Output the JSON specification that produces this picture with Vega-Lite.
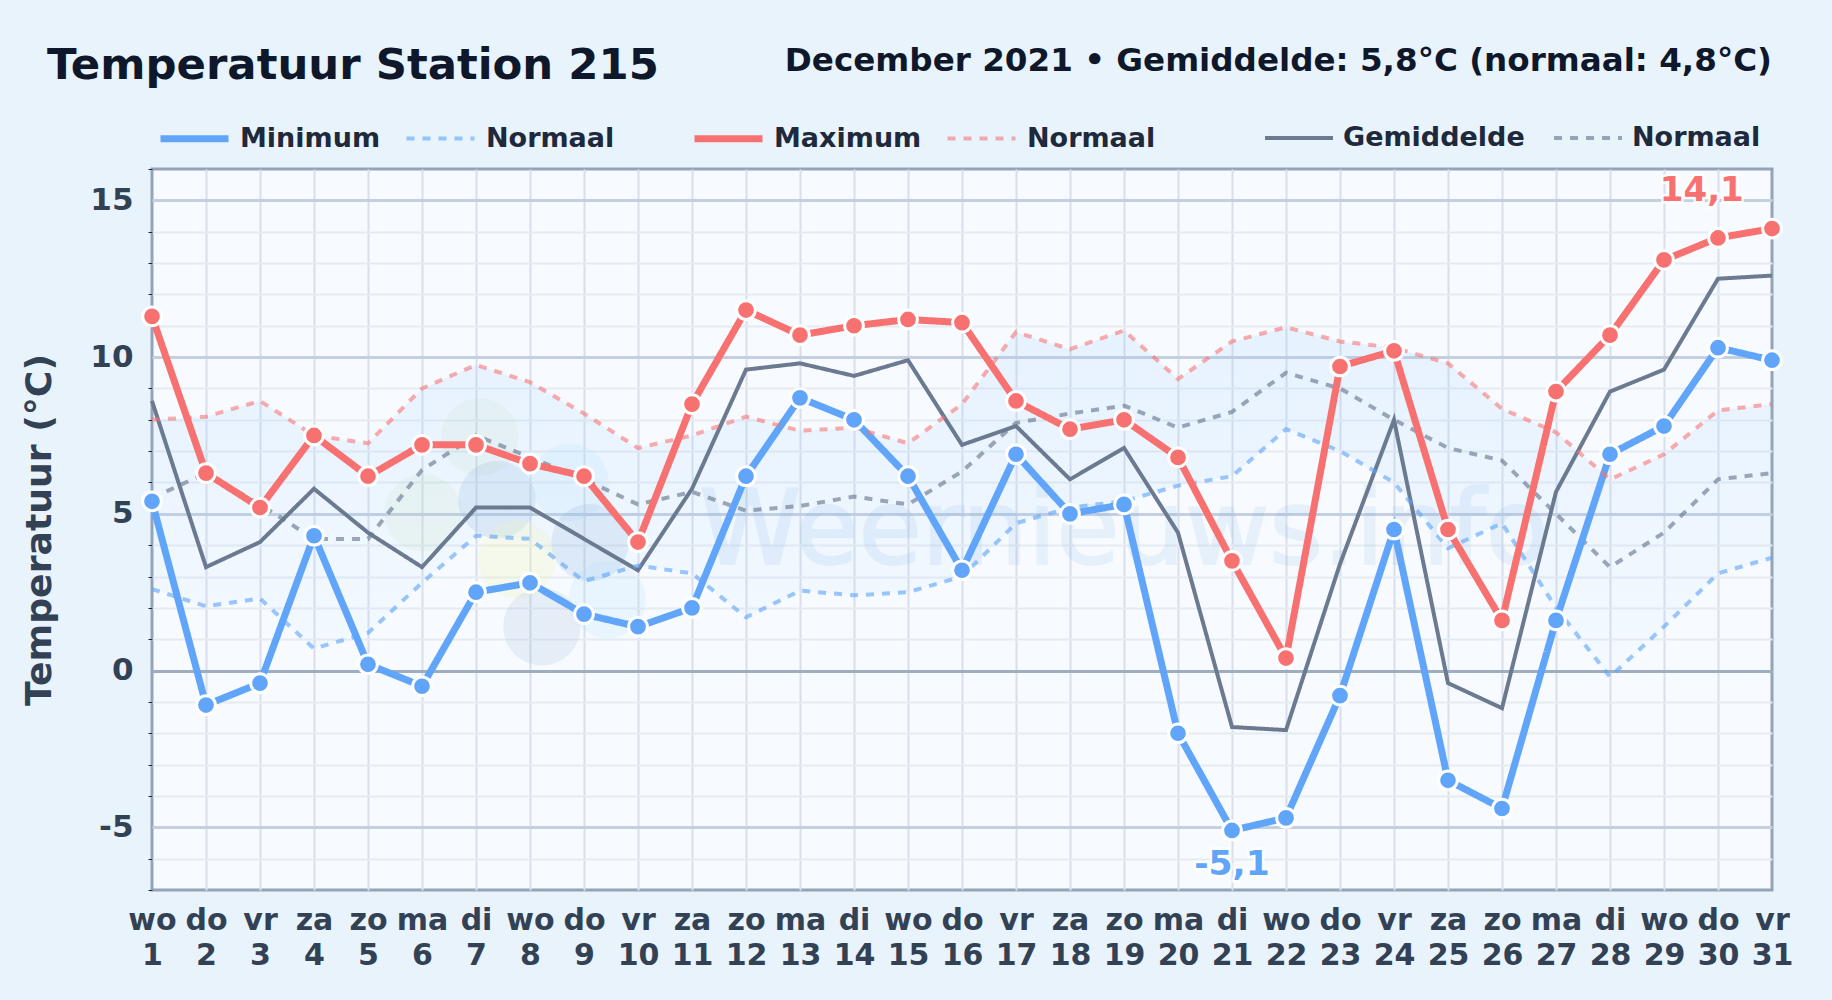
{
"$schema":"https://vega.github.io/schema/vega-lite/v6.json",
"autosize":"none",
"width":1620,"height":721,
"padding":{"left":152,"top":169,"right":60,"bottom":110},
"background":"#e8f3fc",
"view":{"fill":"#f7fbff","stroke":"#94a3b8","strokeWidth":3},
"title":{"text":"Temperatuur Station 215","anchor":"start","frame":"group","dx":-105,"offset":-44,"font":"DejaVu Sans","fontSize":43.4,"fontWeight":"bold","color":"#0f172a"},
"datasets":{
"dagen":[
{"dag":1,"Minimum":5.4,"Maximum":11.3,"Gemiddelde":8.6,"NormaalMin":2.6,"NormaalMax":8.0,"NormaalGem":5.5},
{"dag":2,"Minimum":-1.1,"Maximum":6.3,"Gemiddelde":3.3,"NormaalMin":2.05,"NormaalMax":8.1,"NormaalGem":6.3},
{"dag":3,"Minimum":-0.4,"Maximum":5.2,"Gemiddelde":4.1,"NormaalMin":2.3,"NormaalMax":8.6,"NormaalGem":5.3},
{"dag":4,"Minimum":4.3,"Maximum":7.5,"Gemiddelde":5.8,"NormaalMin":0.7,"NormaalMax":7.5,"NormaalGem":4.2},
{"dag":5,"Minimum":0.2,"Maximum":6.2,"Gemiddelde":4.4,"NormaalMin":1.2,"NormaalMax":7.25,"NormaalGem":4.2},
{"dag":6,"Minimum":-0.5,"Maximum":7.2,"Gemiddelde":3.3,"NormaalMin":2.8,"NormaalMax":9.0,"NormaalGem":6.4},
{"dag":7,"Minimum":2.5,"Maximum":7.2,"Gemiddelde":5.2,"NormaalMin":4.3,"NormaalMax":9.75,"NormaalGem":7.5},
{"dag":8,"Minimum":2.8,"Maximum":6.6,"Gemiddelde":5.2,"NormaalMin":4.2,"NormaalMax":9.2,"NormaalGem":6.8},
{"dag":9,"Minimum":1.8,"Maximum":6.2,"Gemiddelde":4.2,"NormaalMin":2.85,"NormaalMax":8.2,"NormaalGem":6.1},
{"dag":10,"Minimum":1.4,"Maximum":4.1,"Gemiddelde":3.2,"NormaalMin":3.35,"NormaalMax":7.1,"NormaalGem":5.3},
{"dag":11,"Minimum":2.0,"Maximum":8.5,"Gemiddelde":5.8,"NormaalMin":3.1,"NormaalMax":7.5,"NormaalGem":5.7},
{"dag":12,"Minimum":6.2,"Maximum":11.5,"Gemiddelde":9.6,"NormaalMin":1.7,"NormaalMax":8.1,"NormaalGem":5.1},
{"dag":13,"Minimum":8.7,"Maximum":10.7,"Gemiddelde":9.8,"NormaalMin":2.55,"NormaalMax":7.65,"NormaalGem":5.25},
{"dag":14,"Minimum":8.0,"Maximum":11.0,"Gemiddelde":9.4,"NormaalMin":2.4,"NormaalMax":7.75,"NormaalGem":5.55},
{"dag":15,"Minimum":6.2,"Maximum":11.2,"Gemiddelde":9.9,"NormaalMin":2.5,"NormaalMax":7.25,"NormaalGem":5.3},
{"dag":16,"Minimum":3.2,"Maximum":11.1,"Gemiddelde":7.2,"NormaalMin":3.0,"NormaalMax":8.5,"NormaalGem":6.35},
{"dag":17,"Minimum":6.9,"Maximum":8.6,"Gemiddelde":7.8,"NormaalMin":4.7,"NormaalMax":10.8,"NormaalGem":7.9},
{"dag":18,"Minimum":5.0,"Maximum":7.7,"Gemiddelde":6.1,"NormaalMin":5.2,"NormaalMax":10.25,"NormaalGem":8.2},
{"dag":19,"Minimum":5.3,"Maximum":8.0,"Gemiddelde":7.1,"NormaalMin":5.4,"NormaalMax":10.85,"NormaalGem":8.45},
{"dag":20,"Minimum":-2.0,"Maximum":6.8,"Gemiddelde":4.4,"NormaalMin":5.9,"NormaalMax":9.3,"NormaalGem":7.75},
{"dag":21,"Minimum":-5.1,"Maximum":3.5,"Gemiddelde":-1.8,"NormaalMin":6.2,"NormaalMax":10.5,"NormaalGem":8.25},
{"dag":22,"Minimum":-4.7,"Maximum":0.4,"Gemiddelde":-1.9,"NormaalMin":7.7,"NormaalMax":10.95,"NormaalGem":9.5},
{"dag":23,"Minimum":-0.8,"Maximum":9.7,"Gemiddelde":3.4,"NormaalMin":7.0,"NormaalMax":10.5,"NormaalGem":9.0},
{"dag":24,"Minimum":4.5,"Maximum":10.2,"Gemiddelde":8.0,"NormaalMin":6.0,"NormaalMax":10.3,"NormaalGem":8.0},
{"dag":25,"Minimum":-3.5,"Maximum":4.5,"Gemiddelde":-0.4,"NormaalMin":3.9,"NormaalMax":9.8,"NormaalGem":7.1},
{"dag":26,"Minimum":-4.4,"Maximum":1.6,"Gemiddelde":-1.2,"NormaalMin":4.7,"NormaalMax":8.35,"NormaalGem":6.7},
{"dag":27,"Minimum":1.6,"Maximum":8.9,"Gemiddelde":5.7,"NormaalMin":2.0,"NormaalMax":7.6,"NormaalGem":5.0},
{"dag":28,"Minimum":6.9,"Maximum":10.7,"Gemiddelde":8.9,"NormaalMin":-0.2,"NormaalMax":6.1,"NormaalGem":3.3},
{"dag":29,"Minimum":7.8,"Maximum":13.1,"Gemiddelde":9.6,"NormaalMin":1.4,"NormaalMax":6.9,"NormaalGem":4.4},
{"dag":30,"Minimum":10.3,"Maximum":13.8,"Gemiddelde":12.5,"NormaalMin":3.1,"NormaalMax":8.3,"NormaalGem":6.1},
{"dag":31,"Minimum":9.9,"Maximum":14.1,"Gemiddelde":12.6,"NormaalMin":3.6,"NormaalMax":8.5,"NormaalGem":6.3}
],
"logo":[
{"dag":6.02,"waarde":5.03,"deel":"land"},
{"dag":7.07,"waarde":7.45,"deel":"land"},
{"dag":7.39,"waarde":5.45,"deel":"diep"},
{"dag":8.74,"waarde":6.0,"deel":"water"},
{"dag":9.11,"waarde":4.08,"deel":"diep"},
{"dag":7.76,"waarde":3.54,"deel":"geel"},
{"dag":8.22,"waarde":1.4,"deel":"grijs"},
{"dag":9.43,"waarde":2.26,"deel":"water"}
]
},
"data":{"name":"dagen"},
"resolve":{"scale":{"color":"independent","strokeDash":"independent","strokeWidth":"independent"},"axis":{"y":"independent"}},
"layer":[
{"mark":{"type":"area","color":{"gradient":"linear","x1":0,"y1":0,"x2":0,"y2":1,"stops":[{"offset":0,"color":"rgba(147,197,253,0.17)"},{"offset":1,"color":"rgba(147,197,253,0.03)"}]}},
"encoding":{
"x":{"field":"dag","type":"quantitative","scale":{"domain":[1,31],"nice":false},"axis":{"values":[1,2,3,4,5,6,7,8,9,10,11,12,13,14,15,16,17,18,19,20,21,22,23,24,25,26,27,28,29,30,31],"title":null,"labelExpr":"[['wo','do','vr','za','zo','ma','di'][(datum.value-1)%7], datum.label]","labelFont":"DejaVu Sans","labelFontSize":30,"labelFontWeight":"bold","labelColor":"#334155","labelPadding":39,"labelLineHeight":35,"labelBaseline":"alphabetic","ticks":false,"domain":false,"labelOverlap":false,"labelFlush":false,"grid":true,"gridColor":{"condition":{"test":"datum.value===1||datum.value===31","value":"transparent"},"value":"#d8dfea"},"gridWidth":2}},
"y":{"field":"NormaalMax","type":"quantitative","scale":{"domain":[-7,16],"nice":false,"zero":false},"axis":{"orient":"left","values":[-5,0,5,10,15],"labelExpr":"''+datum.value","title":"Temperatuur (°C)","titleFont":"DejaVu Sans","titleFontSize":36.2,"titleFontWeight":"bold","titleColor":"#334155","titlePadding":31,"labelFont":"DejaVu Sans","labelFontSize":31,"labelFontWeight":"bold","labelColor":"#334155","labelPadding":19,"ticks":false,"domain":false,"grid":true,"gridWidth":3,"gridColor":{"condition":{"test":"datum.value===0","value":"#9fadc0"},"value":"#c4d0e0"},"zindex":0}},
"y2":{"field":"NormaalMin"}}},
{"data":{"name":"logo"},"mark":{"type":"point","shape":"circle","filled":true,"size":6000,"opacity":1},
"encoding":{
"x":{"field":"dag","type":"quantitative"},
"y":{"field":"waarde","type":"quantitative","axis":{"orient":"left","values":[-7,-6,-4,-3,-2,-1,1,2,3,4,6,7,8,9,11,12,13,14,16],"title":null,"labels":false,"domain":false,"ticks":true,"tickSize":4,"tickColor":"#1e293b","tickWidth":1,"grid":true,"gridColor":{"condition":{"test":"datum.value===-7||datum.value===16","value":"transparent"},"value":"#e6ebf2"},"gridWidth":2}},
"color":{"field":"deel","type":"nominal","legend":null,"scale":{"domain":["land","diep","water","geel","grijs"],"range":["rgba(190,220,180,0.14)","rgba(140,180,220,0.2)","rgba(170,220,250,0.18)","rgba(240,245,180,0.25)","rgba(160,185,215,0.2)"]}}}},
{"data":{"values":[{"dag":19,"waarde":3.4,"tekst":"Weernieuws.info"}]},"mark":{"type":"text","font":"DejaVu Sans","fontSize":103,"align":"center","baseline":"alphabetic","fill":"#78aae1","stroke":"#78aae1","strokeWidth":2,"opacity":0.13},
"encoding":{"x":{"field":"dag","type":"quantitative"},"y":{"field":"waarde","type":"quantitative","axis":null},"text":{"field":"tekst"}}},
{"transform":[{"fold":["Gemiddelde","NormaalGem"],"as":["reeks","waarde"]}],"mark":{"type":"line"},
"encoding":{"x":{"field":"dag","type":"quantitative"},"y":{"field":"waarde","type":"quantitative","axis":null},
"color":{"field":"reeks","type":"nominal","scale":{"domain":["Gemiddelde","NormaalGem"],"range":["#6b7a90","rgba(107,122,144,0.65)"]},"legend":{"title":null,"orient":"none","legendX":1111,"legendY":-67,"direction":"horizontal","columns":2,"columnPadding":21,"symbolType":"stroke","symbolSize":4624,"labelOffset":8,"labelLimit":400,"labelFont":"DejaVu Sans","labelFontSize":27,"labelFontWeight":"bold","labelColor":"#1e293b","labelExpr":"datum.label=='Gemiddelde'?'Gemiddelde':'Normaal'"}},
"strokeDash":{"field":"reeks","type":"nominal","scale":{"domain":["Gemiddelde","NormaalGem"],"range":[[1,0],[8,8]]},"legend":{"title":null}},
"strokeWidth":{"field":"reeks","type":"nominal","scale":{"domain":["Gemiddelde","NormaalGem"],"range":[4,4]},"legend":{"title":null}}}},
{"transform":[{"fold":["Minimum","NormaalMin"],"as":["reeks","waarde"]}],"mark":{"type":"line"},
"encoding":{"x":{"field":"dag","type":"quantitative"},"y":{"field":"waarde","type":"quantitative","axis":null},
"color":{"field":"reeks","type":"nominal","scale":{"domain":["Minimum","NormaalMin"],"range":["#60a5fa","rgba(96,165,250,0.62)"]},"legend":{"title":null,"orient":"none","legendX":5,"legendY":-68,"direction":"horizontal","columns":2,"columnPadding":17,"symbolType":"stroke","symbolSize":4624,"labelOffset":8,"labelLimit":400,"labelFont":"DejaVu Sans","labelFontSize":27,"labelFontWeight":"bold","labelColor":"#1e293b","labelExpr":"datum.label=='Minimum'?'Minimum':'Normaal'"}},
"strokeDash":{"field":"reeks","type":"nominal","scale":{"domain":["Minimum","NormaalMin"],"range":[[1,0],[8,8]]},"legend":{"title":null}},
"strokeWidth":{"field":"reeks","type":"nominal","scale":{"domain":["Minimum","NormaalMin"],"range":[7,4]},"legend":{"title":null}}}},
{"transform":[{"fold":["Maximum","NormaalMax"],"as":["reeks","waarde"]}],"mark":{"type":"line"},
"encoding":{"x":{"field":"dag","type":"quantitative"},"y":{"field":"waarde","type":"quantitative","axis":null},
"color":{"field":"reeks","type":"nominal","scale":{"domain":["Maximum","NormaalMax"],"range":["#f87171","rgba(248,113,113,0.58)"]},"legend":{"title":null,"orient":"none","legendX":539,"legendY":-68,"direction":"horizontal","columns":2,"columnPadding":17,"symbolType":"stroke","symbolSize":4624,"labelOffset":8,"labelLimit":400,"labelFont":"DejaVu Sans","labelFontSize":27,"labelFontWeight":"bold","labelColor":"#1e293b","labelExpr":"datum.label=='Maximum'?'Maximum':'Normaal'"}},
"strokeDash":{"field":"reeks","type":"nominal","scale":{"domain":["Maximum","NormaalMax"],"range":[[1,0],[8,8]]},"legend":{"title":null}},
"strokeWidth":{"field":"reeks","type":"nominal","scale":{"domain":["Maximum","NormaalMax"],"range":[7,4]},"legend":{"title":null}}}},
{"mark":{"type":"point","shape":"circle","filled":true,"size":350,"opacity":1,"color":"#60a5fa","stroke":"#ffffff","strokeWidth":3},
"encoding":{"x":{"field":"dag","type":"quantitative"},"y":{"field":"Minimum","type":"quantitative","axis":null}}},
{"mark":{"type":"point","shape":"circle","filled":true,"size":350,"opacity":1,"color":"#f87171","stroke":"#ffffff","strokeWidth":3},
"encoding":{"x":{"field":"dag","type":"quantitative"},"y":{"field":"Maximum","type":"quantitative","axis":null}}},
{"data":{"values":[{"dag":21,"waarde":-6.2,"tekst":"-5,1"}]},"mark":{"type":"text","font":"DejaVu Sans","fontSize":34.5,"fontWeight":"bold","align":"center","baseline":"middle","stroke":"#ffffff","strokeWidth":5,"strokeOpacity":0.9,"fill":"#60a5fa"},
"encoding":{"x":{"field":"dag","type":"quantitative"},"y":{"field":"waarde","type":"quantitative","axis":null},"text":{"field":"tekst"}}},
{"data":{"values":[{"dag":29.7,"waarde":15.3,"tekst":"14,1"}]},"mark":{"type":"text","font":"DejaVu Sans","fontSize":34,"fontWeight":"bold","align":"center","baseline":"middle","stroke":"#ffffff","strokeWidth":5,"strokeOpacity":0.9,"fill":"#f87171"},
"encoding":{"x":{"field":"dag","type":"quantitative"},"y":{"field":"waarde","type":"quantitative","axis":null},"text":{"field":"tekst"}}},
{"data":{"values":[{"dag":21,"waarde":-6.2,"tekst":"-5,1"}]},"mark":{"type":"text","font":"DejaVu Sans","fontSize":34.5,"fontWeight":"bold","align":"center","baseline":"middle","color":"#60a5fa"},
"encoding":{"x":{"field":"dag","type":"quantitative"},"y":{"field":"waarde","type":"quantitative","axis":null},"text":{"field":"tekst"}}},
{"data":{"values":[{"dag":29.7,"waarde":15.3,"tekst":"14,1"}]},"mark":{"type":"text","font":"DejaVu Sans","fontSize":34,"fontWeight":"bold","align":"center","baseline":"middle","color":"#f87171"},
"encoding":{"x":{"field":"dag","type":"quantitative"},"y":{"field":"waarde","type":"quantitative","axis":null},"text":{"field":"tekst"}}},
{"data":{"values":[{"dag":31,"waarde":19.14,"tekst":"December 2021 • Gemiddelde: 5,8°C (normaal: 4,8°C)"}]},"mark":{"type":"text","font":"DejaVu Sans","fontSize":32.6,"fontWeight":"bold","align":"right","baseline":"alphabetic","color":"#0f172a"},
"encoding":{"x":{"field":"dag","type":"quantitative"},"y":{"field":"waarde","type":"quantitative","axis":null},"text":{"field":"tekst"}}}
]
}
